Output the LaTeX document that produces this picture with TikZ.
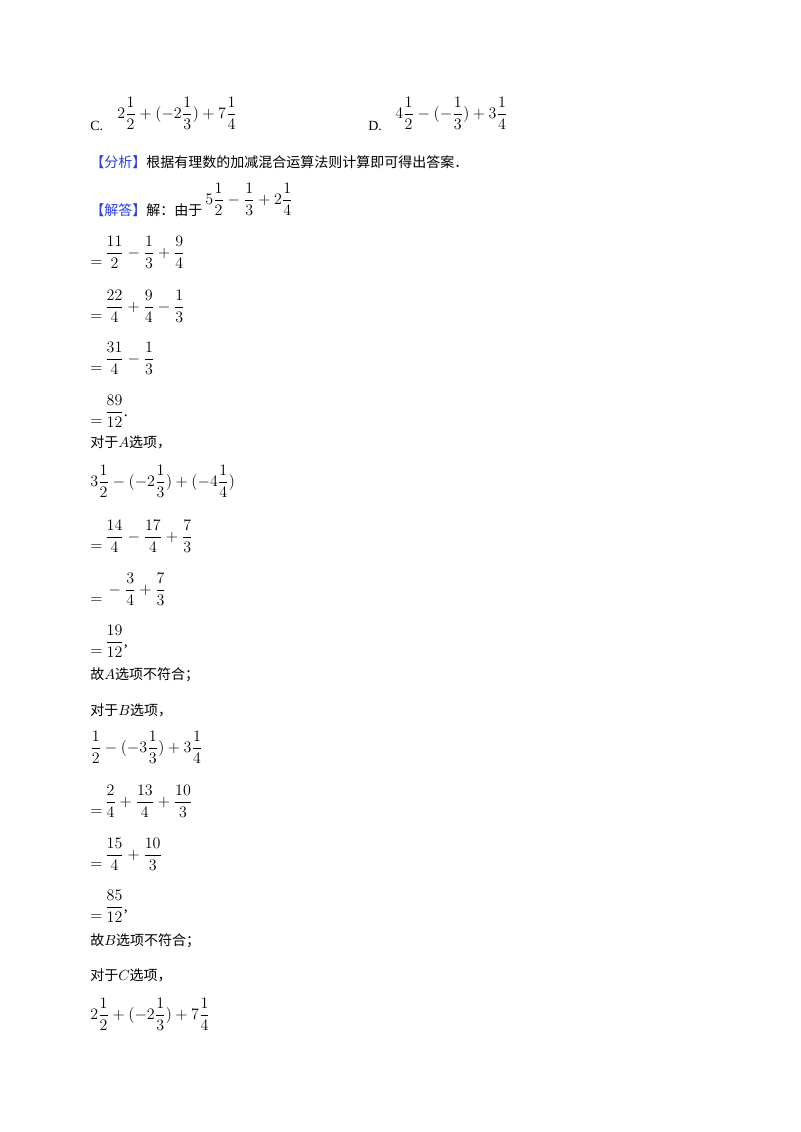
\documentclass[tikz,border=0pt]{standalone}
\usepackage{fontspec}
\setmainfont{Liberation Serif}
\newfontfamily\cjk{Noto Sans CJK SC}
\definecolor{kblue}{RGB}{40,60,230}
\newcommand{\eqd}{\raisebox{-1.3ex}{$=$}\,}
\begin{document}
\begin{tikzpicture}[x=0.75pt,y=-0.75pt,
  t/.style={anchor=base west,inner sep=0pt,font=\fontsize{10.5pt}{12pt}\selectfont},
  m/.style={anchor=west,inner sep=0pt,font=\fontsize{12pt}{14pt}\selectfont}]
\useasboundingbox (0,0) rectangle (800,1132);
\node[t] (lc) at (90,130) {C.};
\node[m] (ec) at (117,113) {$\displaystyle 2\frac{1}{2}+(-2\frac{1}{3})+7\frac{1}{4}$};
\node[t] (ld) at (368,130) {D.};
\node[m] (ed) at (395,113) {$\displaystyle 4\frac{1}{2}-(-\frac{1}{3})+3\frac{1}{4}$};
\node[t] (fx) at (90,167) {\cjk\textcolor{kblue}{【分析】}根据有理数的加减混合运算法则计算即可得出答案．};
\node[t] (jd) at (90,215) {\cjk\textcolor{kblue}{【解答】}解：由于};
\node[m] (e0) at (205,199) {$\displaystyle 5\frac{1}{2}-\frac{1}{3}+2\frac{1}{4}$};
\node[m] (e1) at (90,252) {$\eqd\displaystyle \frac{11}{2}-\frac{1}{3}+\frac{9}{4}$};
\node[m] (e2) at (90,306) {$\eqd\displaystyle \frac{22}{4}+\frac{9}{4}-\frac{1}{3}$};
\node[m] (e3) at (90,358) {$\eqd\displaystyle \frac{31}{4}-\frac{1}{3}$};
\node[m] (e4) at (90,411) {$\eqd\displaystyle \frac{89}{12}$.};
\node[t] (a0) at (90,447) {\cjk 对于$A$选项，};
\node[m] (a1) at (90,481) {$\displaystyle 3\frac{1}{2}-(-2\frac{1}{3})+(-4\frac{1}{4})$};
\node[m] (a2) at (90,536) {$\eqd\displaystyle \frac{14}{4}-\frac{17}{4}+\frac{7}{3}$};
\node[m] (a3) at (90,589) {$\eqd -\displaystyle \frac{3}{4}+\frac{7}{3}$};
\node[m] (a4) at (90,641) {$\eqd\displaystyle \frac{19}{12}$,};
\node[t] (a5) at (90,679) {\cjk 故$A$选项不符合；};
\node[t] (b0) at (90,715) {\cjk 对于$B$选项，};
\node[m] (b1) at (90,747) {$\displaystyle \frac{1}{2}-(-3\frac{1}{3})+3\frac{1}{4}$};
\node[m] (b2) at (90,801) {$\eqd\displaystyle \frac{2}{4}+\frac{13}{4}+\frac{10}{3}$};
\node[m] (b3) at (90,854) {$\eqd\displaystyle \frac{15}{4}+\frac{10}{3}$};
\node[m] (b4) at (90,906) {$\eqd\displaystyle \frac{85}{12}$,};
\node[t] (b5) at (90,945) {\cjk 故$B$选项不符合；};
\node[t] (c0) at (90,980) {\cjk 对于$C$选项，};
\node[m] (c1) at (90,1014) {$\displaystyle 2\frac{1}{2}+(-2\frac{1}{3})+7\frac{1}{4}$};
\end{tikzpicture}
\end{document}
